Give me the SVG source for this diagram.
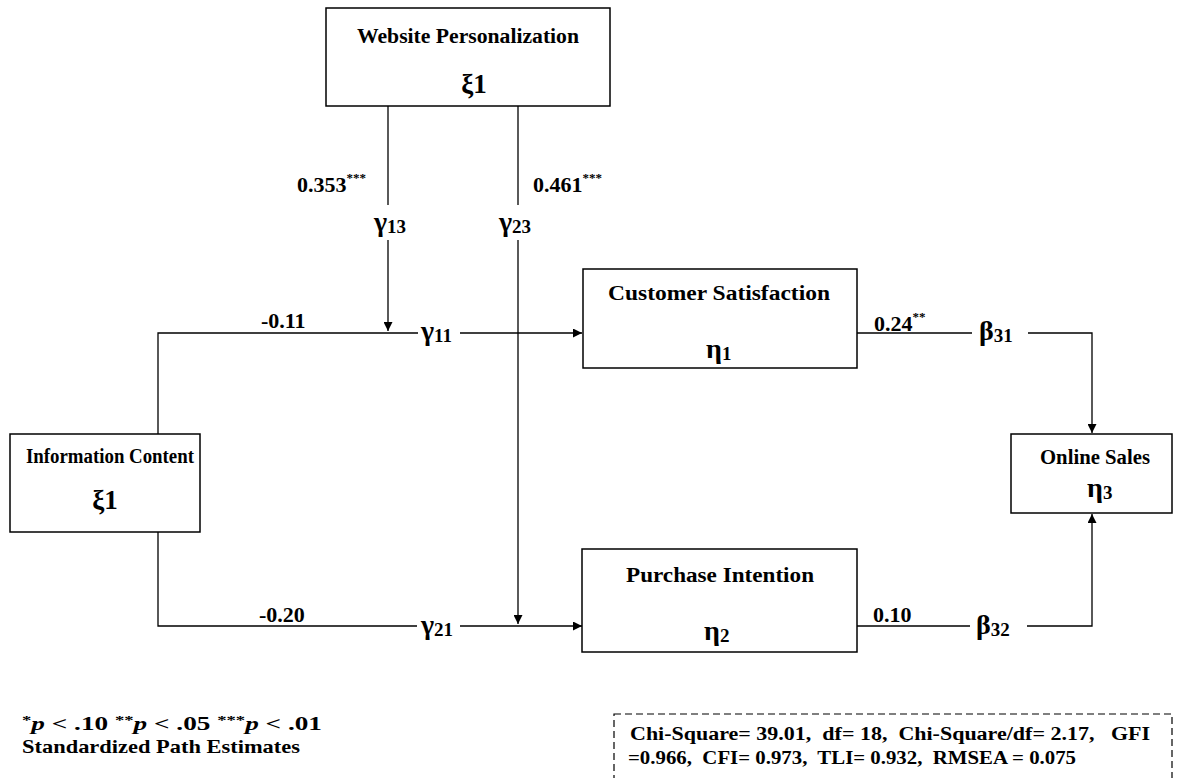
<svg xmlns="http://www.w3.org/2000/svg" width="1194" height="778" viewBox="0 0 1194 778">
<defs>
<marker id="arr" viewBox="0 0 10 10" refX="10" refY="5" markerWidth="11" markerHeight="9" markerUnits="userSpaceOnUse" orient="auto">
<path d="M0,0 L10,5 L0,10 z" fill="#000"/>
</marker>
<style>
.box{fill:#fff;stroke:#000;stroke-width:1.5}
.ln{fill:none;stroke:#000;stroke-width:1.3}
.t{font-family:"Liberation Serif","Times New Roman",serif;font-weight:bold;fill:#000}
.title{font-size:20px;text-anchor:middle}
.greek{font-size:27px;text-anchor:middle}
.coef{font-size:22px}
.sym{font-size:28px}
.sub{font-size:19px}
.sup{font-size:13px}
.leg{font-size:19px}
.fit{font-size:18px;white-space:pre}
</style>
</defs>
<rect width="1194" height="778" fill="#fff"/>

<g id="connectors">
<polyline class="ln" points="388,106 388,205"/>
<polyline class="ln" points="388,240 388,331" marker-end="url(#arr)"/>
<polyline class="ln" points="518,106 518,205"/>
<polyline class="ln" points="518,240 518,624" marker-end="url(#arr)"/>
<polyline class="ln" points="158,434 158,333 418,333"/>
<polyline class="ln" points="460,333 582,333" marker-end="url(#arr)"/>
<polyline class="ln" points="158,532 158,626 417,626"/>
<polyline class="ln" points="460,626 582,626" marker-end="url(#arr)"/>
<polyline class="ln" points="857,333 972,333"/>
<polyline class="ln" points="1028,333 1092,333 1092,433" marker-end="url(#arr)"/>
<polyline class="ln" points="857,626 970,626"/>
<polyline class="ln" points="1027,626 1092,626 1092,514" marker-end="url(#arr)"/>
</g>

<g id="labels">
<text class="t coef" x="297" y="192">0.353<tspan class="sup" dy="-10">***</tspan></text>
<text class="t sym" x="374" y="231">γ<tspan class="sub" dy="2">13</tspan></text>
<text class="t coef" x="533" y="192">0.461<tspan class="sup" dy="-10">***</tspan></text>
<text class="t sym" x="499" y="231">γ<tspan class="sub" dy="2">23</tspan></text>
<text class="t coef" x="261" y="328">-0.11</text>
<text class="t sym" x="421" y="340">γ<tspan class="sub" dy="2">11</tspan></text>
<text class="t coef" x="259" y="622">-0.20</text>
<text class="t sym" x="421" y="634">γ<tspan class="sub" dy="2">21</tspan></text>
<text class="t coef" x="874" y="331">0.24<tspan class="sup" dy="-10">**</tspan></text>
<text class="t sym" x="979" y="340">β<tspan class="sub" dy="2">31</tspan></text>
<text class="t coef" x="873" y="622">0.10</text>
<text class="t sym" x="976" y="634">β<tspan class="sub" dy="2">32</tspan></text>
</g>

<g id="node-wp">
<rect class="box" x="326" y="8" width="284" height="98"/>
<text class="t title" x="468" y="43" textLength="222" lengthAdjust="spacingAndGlyphs">Website Personalization</text>
<text class="t greek" x="474" y="93">ξ1</text>
</g>

<g id="node-ic">
<rect class="box" x="10" y="434" width="190" height="98"/>
<text class="t title" x="110" y="463" textLength="168" lengthAdjust="spacingAndGlyphs">Information Content</text>
<text class="t greek" x="105" y="509">ξ1</text>
</g>

<g id="node-cs">
<rect class="box" x="583" y="269" width="274" height="99"/>
<text class="t title" x="719" y="300" textLength="222" lengthAdjust="spacingAndGlyphs">Customer Satisfaction</text>
<text class="t sym" x="706" y="358">η<tspan class="sub" dy="2">1</tspan></text>
</g>

<g id="node-pi">
<rect class="box" x="582" y="549" width="275" height="103"/>
<text class="t title" x="720" y="582" textLength="188" lengthAdjust="spacingAndGlyphs">Purchase Intention</text>
<text class="t sym" x="704" y="640">η<tspan class="sub" dy="2">2</tspan></text>
</g>

<g id="node-os">
<rect class="box" x="1011" y="434" width="161" height="79"/>
<text class="t title" x="1095" y="464" textLength="110" lengthAdjust="spacingAndGlyphs">Online Sales</text>
<text class="t sym" x="1087" y="497">η<tspan class="sub" dy="2">3</tspan></text>
</g>

<g id="legend">
<text class="t leg" x="22" y="730" textLength="300" lengthAdjust="spacingAndGlyphs"><tspan class="sup" dy="-6">*</tspan><tspan dy="6" font-style="italic">p</tspan> &lt; .10 <tspan class="sup" dy="-6">**</tspan><tspan dy="6" font-style="italic">p</tspan> &lt; .05 <tspan class="sup" dy="-6">***</tspan><tspan dy="6" font-style="italic">p</tspan> &lt; .01</text>
<text class="t leg" x="22" y="753" textLength="278" lengthAdjust="spacingAndGlyphs">Standardized Path Estimates</text>
</g>

<g id="fit-indices">
<rect x="614" y="714" width="558" height="70" fill="none" stroke="#000" stroke-width="1.2" stroke-dasharray="7,4"/>
<text class="t fit" x="630" y="740" textLength="520" lengthAdjust="spacingAndGlyphs">Chi-Square= 39.01,  df= 18,  Chi-Square/df= 2.17,   GFI</text>
<text class="t fit" x="628" y="764" textLength="448" lengthAdjust="spacingAndGlyphs">=0.966,  CFI= 0.973,  TLI= 0.932,  RMSEA = 0.075</text>
</g>
</svg>
